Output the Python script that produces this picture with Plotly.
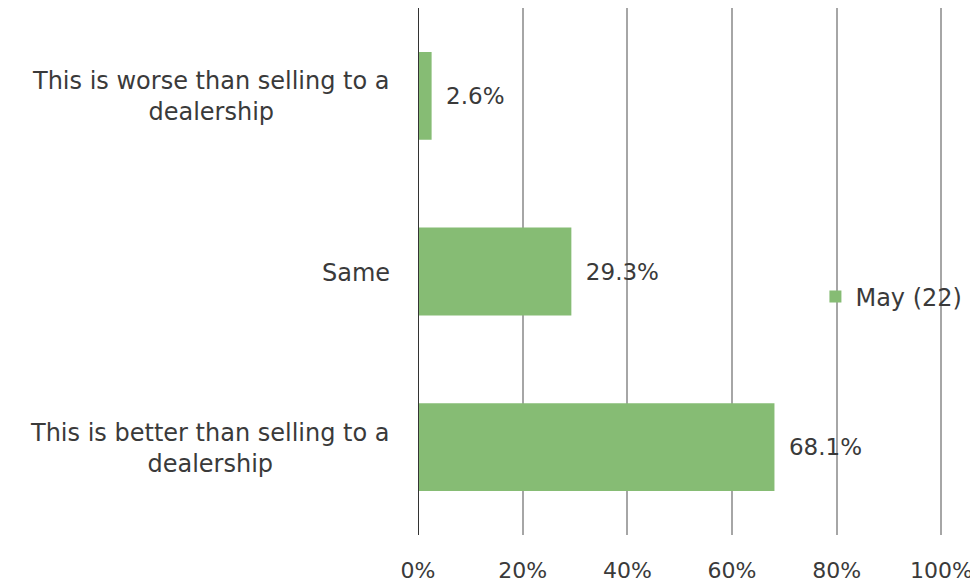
import plotly.graph_objects as go

categories = ["This is better than selling to a<br>dealership", "Same", "This is worse than selling to a<br>dealership"]
values = [68.1, 29.3, 2.6]
series_name = "May (22)"
tick_vals = [0, 20, 40, 60, 80, 100]
tick_text = ["0%", "20%", "40%", "60%", "80%", "100%"]

FONT = "'DejaVu Sans', sans-serif"
TXT = "#3a3a3a"

fig = go.Figure()
fig.add_trace(go.Bar(
    x=values, y=categories, orientation="h", name=series_name,
    marker=dict(color="#86bc74", line=dict(width=0)),
    width=0.5,
    text=[f"\u2002{v:.1f}%" for v in values],
    textposition="outside", cliponaxis=False,
    textfont=dict(family=FONT, size=23, color=TXT),
    showlegend=True,
))

for c in categories:
    fig.add_annotation(x=0, xref="paper", y=c, yref="y", text=c, showarrow=False,
                       xanchor="right", align="center", xshift=-26, yshift=-1,
                       font=dict(family=FONT, size=24, color=TXT))

fig.update_layout(
    width=978, height=585,
    margin=dict(l=410, r=43, t=0, b=58),
    paper_bgcolor="white", plot_bgcolor="white",
    font=dict(family=FONT, size=23, color=TXT),
    bargap=0.5,
    legend=dict(x=0.757, y=0.4516, xanchor="left", yanchor="middle",
                bgcolor="rgba(0,0,0,0)", font=dict(family=FONT, size=24, color=TXT)),
    xaxis=dict(range=[0, 100.3], tickvals=tick_vals, ticktext=tick_text,
               showgrid=True, gridcolor="#a6a6a6", gridwidth=2, zeroline=False,
               showline=False, ticks="outside", ticklen=16, tickcolor="rgba(0,0,0,0)",
               tickfont=dict(family=FONT, size=22, color=TXT)),
    yaxis=dict(showticklabels=False, showgrid=False, zeroline=False, showline=False),
)
fig.add_shape(type="line", xref="x", yref="paper", x0=0, x1=0, y0=0, y1=1,
              line=dict(color="#333333", width=2))

fig.write_html("out.html")
